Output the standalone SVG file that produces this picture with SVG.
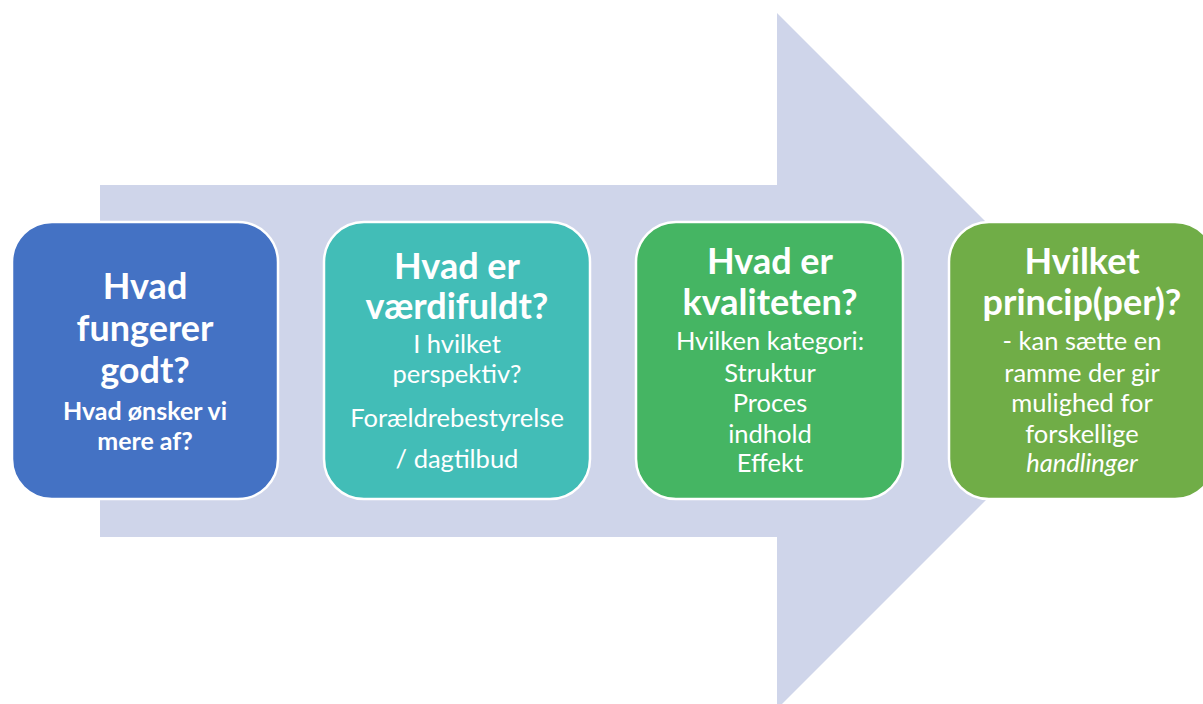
<svg xmlns="http://www.w3.org/2000/svg" width="1203" height="704" viewBox="0 0 1203 704">
<style>
.box{stroke:#ffffff;stroke-width:2.5}
text{font-family:Lato,"Open Sans","Liberation Sans",sans-serif;fill:#ffffff;text-anchor:middle}
.t{font-weight:bold;font-size:36px}
.sb{font-weight:bold;font-size:25px}
.s{font-size:25.5px}
.i{font-style:italic}
</style>
<rect width="1203" height="704" fill="#ffffff"/>
<g id="connectors">
<polygon id="arrow" points="100,185 777,185 777,13 1125,361 777,709 777,537 100,537" fill="#cfd5ea"/>
</g>
<g id="node1">
<rect class="box" x="12" y="222" width="266" height="277" rx="40" fill="#4472c4"/>
<text class="t" x="145" y="299">Hvad</text>
<text class="t" x="145" y="341">fungerer</text>
<text class="t" x="145" y="383">godt?</text>
<text class="sb" x="145" y="420">Hvad ønsker vi</text>
<text class="sb" x="145" y="450">mere af?</text>
</g>
<g id="node2">
<rect class="box" x="324" y="222" width="266" height="277" rx="40" fill="#42bdb7"/>
<text class="t" x="457" y="279">Hvad er</text>
<text class="t" x="457" y="319">værdifuldt?</text>
<text class="s" x="457" y="353">I hvilket</text>
<text class="s" x="457" y="383">perspektiv?</text>
<text class="s" x="457" y="427">Forældrebestyrelse</text>
<text class="s" x="457" y="468">/ dagtilbud</text>
</g>
<g id="node3">
<rect class="box" x="636" y="222" width="267" height="277" rx="40" fill="#45b563"/>
<text class="t" x="770" y="274">Hvad er</text>
<text class="t" x="770" y="315">kvaliteten?</text>
<text class="s" x="770" y="350">Hvilken kategori:</text>
<text class="s" x="770" y="382">Struktur</text>
<text class="s" x="770" y="412">Proces</text>
<text class="s" x="770" y="443">indhold</text>
<text class="s" x="770" y="472">Effekt</text>
</g>
<g id="node4">
<rect class="box" x="949" y="222" width="266" height="277" rx="40" fill="#70ad47"/>
<text class="t" x="1082" y="274">Hvilket</text>
<text class="t" x="1082" y="315">princip(per)?</text>
<text class="s" x="1082" y="350">- kan sætte en</text>
<text class="s" x="1082" y="382">ramme der gir</text>
<text class="s" x="1082" y="412">mulighed for</text>
<text class="s" x="1082" y="443">forskellige</text>
<text class="s i" x="1082" y="472">handlinger</text>
</g>
</svg>
